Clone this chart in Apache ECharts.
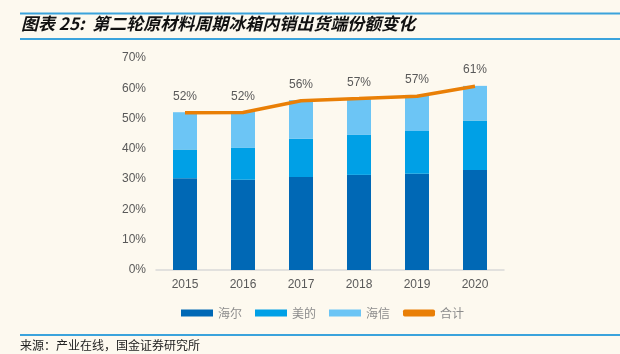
<!DOCTYPE html>
<html>
<head>
<meta charset="utf-8">
<script src="https://cdn.jsdelivr.net/npm/echarts@6/dist/echarts.min.js"></script>
<style>
  html, body { margin: 0; padding: 0; background: #fdf9ef; }
  #main { width: 620px; height: 354px; }
</style>
</head>
<body>
<div id="main"></div>
<script>
// 年份
var years = ['2015', '2016', '2017', '2018', '2019', '2020'];
// 各品牌份额（%）
var haier = [30.3, 29.8, 30.7, 31.4, 31.8, 33.0];
var midea = [9.5, 10.5, 12.6, 13.2, 14.1, 16.4];
var hisense = [12.3, 11.9, 12.8, 11.9, 11.9, 11.4];
// 合计
var total = [51.9, 52.0, 55.9, 56.6, 57.4, 60.7];
var totalLabels = ['52%', '52%', '56%', '57%', '57%', '61%'];
// y轴刻度
var yMin = 0, yMax = 70, yStep = 10;

var chart = echarts.init(document.getElementById('main'));

var lineBlue = '#3ba3dc';

var option = {
  backgroundColor: '#fdf9ef',
  animation: false,
  title: [
    {
      text: '图表 25:  第二轮原材料周期冰箱内销出货端份额变化',
      left: 21, top: 15, padding: 0,
      textStyle: { fontFamily: 'Noto Sans CJK SC', fontSize: 17, fontWeight: 'bold', fontStyle: 'italic', color: '#111' }
    },
    {
      text: '来源：产业在线，国金证券研究所',
      left: 20, top: 339, padding: 0,
      textStyle: { fontFamily: 'Noto Sans CJK SC', fontSize: 12, fontWeight: 'normal', color: '#222' }
    }
  ],
  graphic: [
    { type: 'line', shape: { x1: 20, y1: 13.5, x2: 620, y2: 13.5 }, style: { stroke: lineBlue, lineWidth: 2 } },
    { type: 'line', shape: { x1: 20, y1: 39, x2: 620, y2: 39 }, style: { stroke: lineBlue, lineWidth: 2 } },
    { type: 'line', shape: { x1: 20, y1: 335, x2: 620, y2: 335 }, style: { stroke: lineBlue, lineWidth: 2 } }
  ],
  grid: { left: 156, right: 116, top: 58, bottom: 84 },
  legend: {
    left: 176, top: 302,
    itemWidth: 32, itemHeight: 7, itemGap: 13,
    textStyle: { fontFamily: 'Noto Sans CJK SC', fontSize: 12, color: '#8c8c8c' },
    data: [
      { name: '海尔', icon: 'rect' },
      { name: '美的', icon: 'rect' },
      { name: '海信', icon: 'rect' },
      { name: '合计', icon: 'roundRect' }
    ]
  },
  xAxis: {
    type: 'category',
    data: years,
    axisLine: { lineStyle: { color: '#d9d9d9', width: 1.5 } },
    axisTick: { inside: true, length: 4, lineStyle: { color: '#d9d9d9' } },
    axisLabel: { color: '#595959', fontSize: 12, fontFamily: 'Liberation Sans', margin: 9 }
  },
  yAxis: {
    type: 'value',
    min: yMin, max: yMax, interval: yStep,
    axisLine: { show: false },
    axisTick: { show: false },
    splitLine: { show: false },
    axisLabel: {
      color: '#595959', fontSize: 12, fontFamily: 'Liberation Sans', margin: 10,
      formatter: function (v) { return v + '%'; }
    }
  },
  series: [
    { name: '海尔', type: 'bar', stack: 'share', data: haier, barWidth: 24, itemStyle: { color: '#0068b5' } },
    { name: '美的', type: 'bar', stack: 'share', data: midea, barWidth: 24, itemStyle: { color: '#00a0e6' } },
    { name: '海信', type: 'bar', stack: 'share', data: hisense, barWidth: 24, itemStyle: { color: '#6cc5f5' } },
    {
      name: '合计', type: 'line', data: total,
      symbol: 'circle', symbolSize: 0,
      lineStyle: { color: '#e97f06', width: 3.5 },
      itemStyle: { color: '#e97f06' },
      label: {
        show: true, position: 'top', distance: 10,
        color: '#595959', fontSize: 12, fontFamily: 'Liberation Sans',
        formatter: function (p) { return totalLabels[p.dataIndex]; }
      },
      z: 5
    }
  ]
};

chart.setOption(option);
</script>
</body>
</html>
